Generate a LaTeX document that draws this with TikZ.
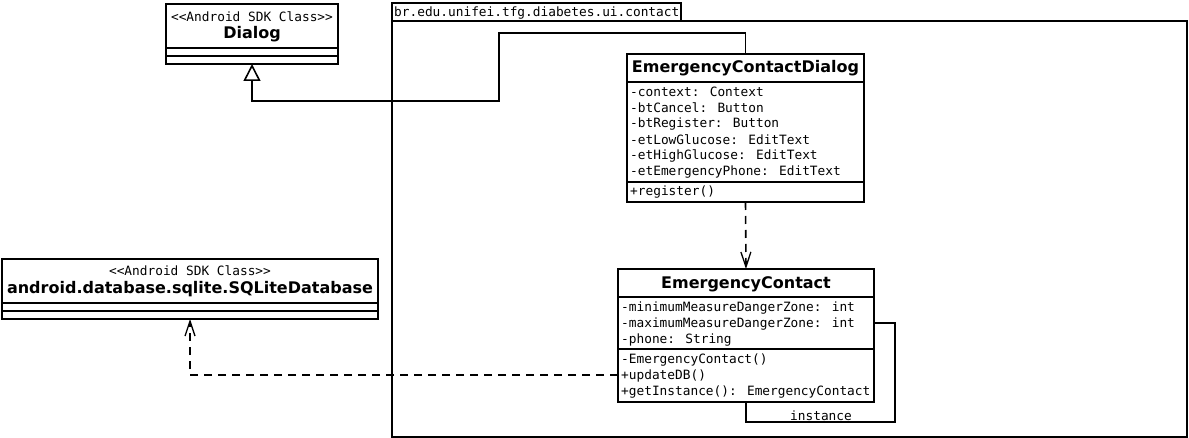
\documentclass[tikz,border=0pt]{standalone}
\usepackage{fontspec}
\setmainfont{DejaVu Sans}
\newfontfamily\monofnt{DejaVu Sans Mono}
\usetikzlibrary{arrows.meta,calc}
\tikzset{
  lw/.style={line width=1.6pt},
  classbox/.style={draw, lw, anchor=north west, inner sep=0pt, outer sep=0pt},
  attr/.style={anchor=west, inner sep=0pt, yshift=-1pt, font=\monofnt\fontsize{12.8}{14}\selectfont},
  stereo/.style={inner sep=0pt, yshift=-1pt, font=\monofnt\fontsize{12.8}{14}\selectfont},
  ctitle/.style={inner sep=0pt, yshift=-1pt, font=\bfseries\fontsize{16}{18}\selectfont},
  dep/.style={lw, dash pattern=on 8pt off 6pt, -{Straight Barb[length=15pt,width=10pt,line width=1.3pt]}},
  inh/.style={lw, -{Triangle[open,length=17pt,width=17pt,line width=1.6pt]}},
}
\begin{document}
\begin{tikzpicture}[x=1pt,y=-1pt]
\useasboundingbox (0,0) rectangle (1189,438);
% package
\node[classbox, minimum width=289pt, minimum height=18pt] (pkgtab) at (392,3) {};
\node[classbox, minimum width=795pt, minimum height=416pt] (pkg) at (392,21) {};
\node[attr] (pkglabel) at (394,12) {br.edu.unifei.tfg.diabetes.ui.contact};
% Dialog
\node[classbox, minimum width=172pt, minimum height=60pt] (dialog) at (166,4) {};
\node[stereo] (dialogst) at (252,16) {<<Android SDK Class>>};
\node[ctitle] (dialogt) at (252,33) {Dialog};
\draw[lw] (166,48) -- (338,48) (166,56) -- (338,56);
% SQLiteDatabase
\node[classbox, minimum width=376pt, minimum height=60pt] (db) at (2,259) {};
\node[stereo] (dbst) at (190,270) {<<Android SDK Class>>};
\node[ctitle] (dbt) at (190,288) {android.database.sqlite.SQLiteDatabase};
\draw[lw] (2,303) -- (378,303) (2,311) -- (378,311);
% EmergencyContactDialog
\node[classbox, minimum width=237pt, minimum height=148pt] (ecd) at (627,54) {};
\node[ctitle] (ecdt) at (745.5,67) {EmergencyContactDialog};
\draw[lw] (627,82) -- (864,82) (627,182) -- (864,182);
\node[attr] (a1) at (630,91) {-context: Context};
\node[attr] (a2) at (630,107) {-btCancel: Button};
\node[attr] (a3) at (630,123) {-btRegister: Button};
\node[attr] (a4) at (630,139) {-etLowGlucose: EditText};
\node[attr] (a5) at (630,155) {-etHighGlucose: EditText};
\node[attr] (a6) at (630,171) {-etEmergencyPhone: EditText};
\node[attr] (m1) at (630,191) {+register()};
% EmergencyContact
\node[classbox, minimum width=256pt, minimum height=133pt] (ec) at (618,269) {};
\node[ctitle] (ect) at (746,283) {EmergencyContact};
\draw[lw] (618,297) -- (874,297) (618,349) -- (874,349);
\node[attr] (b1) at (621,307) {-minimumMeasureDangerZone: int};
\node[attr] (b2) at (621,323) {-maximumMeasureDangerZone: int};
\node[attr] (b3) at (621,339) {-phone: String};
\node[attr] (n1) at (621,359) {-EmergencyContact()};
\node[attr] (n2) at (621,375) {+updateDB()};
\node[attr] (n3) at (621,391) {+getInstance(): EmergencyContact};
% connectors
\draw[inh] (ecd.north) |- (499,33) -- (499,101) -| (dialog.south);
\draw[dep] (ecd.south) -- (ec.north);
\coordinate (ecl) at (618,375);
\draw[dep] (ecl) -| (db.south);
\coordinate (ecr) at (874,323);
\draw[lw] (ecr) -- (895,323) |- (746,422) -- (ec.south);
\node[stereo] (inst) at (821,415) {instance};
\end{tikzpicture}
\end{document}
